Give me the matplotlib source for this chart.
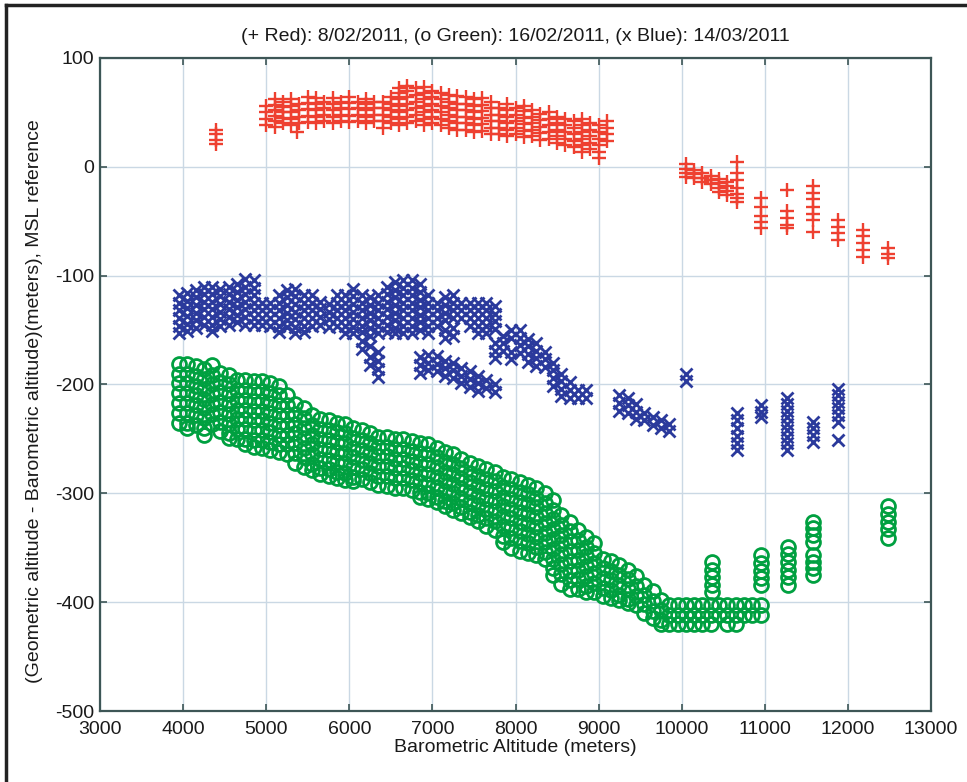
import matplotlib
matplotlib.use('Agg')
import matplotlib.pyplot as plt
from matplotlib.lines import Line2D

# altitude difference vs barometric altitude, three flights
# each series stored as columns: x position and the y values stacked at it

# (+ Red) 8/02/2011
red_x = [4400, 5000, 5100, 5200, 5300, 5370, 5400, 5500, 5600, 5700, 5800, 5900,
         6000, 6100, 6200, 6300, 6400, 6500, 6600, 6700, 6800, 6900, 7000, 7100,
         7200, 7300, 7400, 7500, 7600, 7700, 7800, 7900, 8000, 8100, 8200, 8300,
         8400, 8500, 8600, 8700, 8800, 8900, 9000, 9100,
         10050, 10150, 10250, 10350, 10450, 10550, 10660, 10960, 11270, 11580,
         11880, 12180, 12480]
red_y = [[21, 25, 30, 34],
         [38, 44, 50, 56],
         [37, 42, 47, 52, 57, 62],
         [40, 45, 50, 55, 60],
         [38, 44, 50, 56, 62],
         [32],
         [40, 46, 52, 58],
         [41, 47, 53, 59, 64],
         [40, 46, 52, 58, 63],
         [42, 48, 54, 60],
         [40, 46, 52, 58, 63],
         [42, 48, 54, 60],
         [41, 47, 53, 59, 64],
         [42, 48, 54, 60],
         [40, 46, 52, 58, 62],
         [42, 48, 54, 60],
         [36, 42, 48, 54, 60],
         [40, 46, 52, 58, 64],
         [38, 44, 50, 56, 62, 68, 72],
         [40, 46, 52, 58, 64, 70, 74],
         [42, 48, 54, 60, 66, 72],
         [38, 44, 50, 56, 62, 68, 73],
         [40, 46, 52, 58, 64, 70],
         [38, 44, 50, 56, 62, 68],
         [36, 42, 48, 54, 60, 66],
         [34, 40, 46, 52, 58, 65],
         [34, 40, 46, 52, 58, 64],
         [32, 38, 44, 50, 56, 62],
         [33, 39, 45, 51, 57, 63],
         [30, 36, 42, 48, 54, 60],
         [30, 36, 42, 48, 54],
         [28, 34, 40, 46, 52, 58],
         [30, 36, 42, 48, 54],
         [27, 33, 39, 45, 51, 56],
         [28, 34, 40, 46, 52],
         [25, 31, 37, 43, 49],
         [26, 32, 38, 44, 50],
         [22, 28, 34, 40, 46],
         [20, 26, 32, 38, 44],
         [18, 24, 30, 36, 42],
         [14, 20, 26, 32, 38, 44],
         [16, 22, 28, 34, 40],
         [8, 14, 20, 26, 32, 38],
         [24, 30, 36, 42],
         [3, -2, -6, -9],
         [-3, -7, -10],
         [-6, -10, -14],
         [-8, -12, -16],
         [-11, -15, -19, -23],
         [-14, -18, -22, -26],
         [4, -6, -12, -19, -25, -29, -32],
         [-29, -37, -45, -51, -56],
         [-21, -41, -47, -53, -56],
         [-18, -24, -30, -37, -43, -49, -60],
         [-49, -55, -61, -67],
         [-58, -64, -70, -76, -83],
         [-75, -80, -84]]

# (o Green) 16/02/2011
green_x = [3950, 4050, 4150, 4250, 4350, 4450, 4550, 4650, 4750, 4850, 4950,
           5050, 5150, 5250, 5350, 5450, 5550, 5650, 5750, 5850, 5950, 6050,
           6150, 6250, 6350, 6450, 6550, 6650, 6750, 6850, 6950, 7050, 7150,
           7250, 7350, 7450, 7550, 7650, 7750, 7850, 7950, 8050, 8150, 8250,
           8350, 8450, 8550, 8650, 8750, 8850, 8950, 9050, 9150, 9250, 9350,
           9450, 9550, 9650, 9750, 9850, 9950, 10050, 10150, 10250, 10350,
           10450, 10550, 10650, 10750, 10850, 10950,
           10360, 10960, 11280, 11580, 12480]
green_y = [[-181, -190, -199, -208, -217, -226, -235],
           [-181, -190, -199, -208, -217, -226, -235, -240],
           [-183, -192, -201, -210, -219, -228, -237],
           [-186, -195, -204, -213, -222, -231, -240, -246],
           [-182, -191, -200, -209, -218, -227, -236],
           [-189, -198, -207, -216, -225, -234, -243],
           [-191, -200, -209, -218, -227, -236, -245, -249],
           [-196, -205, -214, -223, -232, -241, -250],
           [-196, -205, -214, -223, -232, -241, -250, -255],
           [-197, -206, -215, -224, -233, -242, -251, -257],
           [-197, -206, -215, -224, -233, -242, -251, -258],
           [-199, -208, -217, -226, -235, -244, -253, -260],
           [-201, -210, -219, -228, -237, -246, -255, -262],
           [-210, -219, -228, -237, -246, -255, -264],
           [-218, -227, -236, -245, -254, -263, -272],
           [-222, -231, -240, -249, -258, -267, -276],
           [-228, -237, -246, -255, -264, -273, -279],
           [-232, -241, -250, -259, -268, -277, -282],
           [-233, -242, -251, -260, -269, -278, -284],
           [-235, -244, -253, -262, -271, -280, -286],
           [-236, -245, -254, -263, -272, -281, -288],
           [-240, -249, -258, -267, -276, -285, -289],
           [-242, -251, -260, -269, -278, -287],
           [-245, -254, -263, -272, -281, -290],
           [-248, -257, -266, -275, -284, -292],
           [-248, -257, -266, -275, -284, -293],
           [-250, -259, -268, -277, -286, -295],
           [-250, -259, -268, -277, -286, -295],
           [-252, -261, -270, -279, -288, -297],
           [-254, -263, -272, -281, -290, -299, -303],
           [-255, -264, -273, -282, -291, -300, -305],
           [-258, -267, -276, -285, -294, -303, -308],
           [-262, -271, -280, -289, -298, -307, -312],
           [-264, -273, -282, -291, -300, -309, -315],
           [-268, -277, -286, -295, -304, -313, -318],
           [-272, -281, -290, -299, -308, -317, -322],
           [-275, -284, -293, -302, -311, -320, -325],
           [-278, -287, -296, -305, -314, -323, -330],
           [-280, -289, -298, -307, -316, -325, -334],
           [-285, -294, -303, -312, -321, -330, -339, -345],
           [-287, -296, -305, -314, -323, -332, -341, -350],
           [-290, -299, -308, -317, -326, -335, -344, -353],
           [-292, -301, -310, -319, -328, -337, -346, -355],
           [-295, -304, -313, -322, -331, -340, -349, -357],
           [-300, -309, -318, -327, -336, -345, -354, -360],
           [-306, -315, -324, -333, -342, -351, -360, -369, -375],
           [-320, -329, -338, -347, -356, -365, -374, -383],
           [-326, -335, -344, -353, -362, -371, -380, -388],
           [-334, -343, -352, -361, -370, -379, -388],
           [-340, -349, -358, -367, -376, -385, -391],
           [-346, -355, -364, -373, -382, -391],
           [-360, -369, -378, -387, -394],
           [-362, -371, -380, -389, -396],
           [-366, -375, -384, -393, -398],
           [-370, -379, -388, -397, -401],
           [-376, -385, -394, -403],
           [-384, -393, -402, -410],
           [-390, -399, -408, -415],
           [-398, -407, -416, -420],
           [-403, -412, -420],
           [-403, -412, -420],
           [-403, -412, -420],
           [-403, -412, -420],
           [-403, -412, -420],
           [-403, -412, -420],
           [-403, -412],
           [-403, -412, -420],
           [-403, -412, -420],
           [-403, -412],
           [-403, -412],
           [-403, -412],
           [-363, -370, -377, -384, -391],
           [-357, -364, -371, -378, -384],
           [-349, -356, -363, -370, -377, -384],
           [-326, -332, -338, -345, -357, -363, -369, -375],
           [-312, -319, -326, -333, -341]]

# (x Blue) 14/03/2011
blue_x = [3950, 4050, 4150, 4250, 4350, 4450, 4550, 4650, 4750, 4850, 4950,
          5050, 5150, 5250, 5350, 5450, 5550, 5650, 5750, 5850, 5950, 6050,
          6150, 6250, 6350, 6450, 6550, 6650, 6750, 6850, 6950, 7050, 7150,
          7250, 7350, 7450, 7550, 7650, 7750, 7850, 7950, 8050, 8150, 8250,
          8350, 8450, 8550, 8650, 8750, 8850, 9250, 9350, 9450, 9550, 9650,
          9750, 9850, 10050, 10660, 10960, 11270, 11580, 11880]
blue_y = [[-118, -125, -132, -139, -146, -153],
          [-116, -123, -130, -137, -144, -151],
          [-113, -120, -127, -134, -141, -148],
          [-110, -117, -124, -131, -138, -145],
          [-110, -117, -124, -131, -138, -145, -151],
          [-112, -119, -126, -133, -140, -146],
          [-110, -117, -124, -131, -138, -145],
          [-108, -115, -122, -129, -136, -143],
          [-103, -110, -117, -124, -131, -138, -145],
          [-104, -111, -118, -125, -132, -139, -145],
          [-125, -132, -139, -145],
          [-125, -132, -139, -146],
          [-118, -125, -132, -139, -146, -152],
          [-113, -120, -127, -134, -141, -147],
          [-112, -119, -126, -133, -140, -147, -153],
          [-118, -125, -132, -139, -146, -152],
          [-118, -125, -132, -139, -146],
          [-124, -131, -138, -145],
          [-126, -133, -140, -147],
          [-118, -125, -132, -139, -146],
          [-118, -125, -132, -139, -146, -153],
          [-112, -119, -126, -133, -140, -147, -153],
          [-118, -125, -132, -139, -146, -152, -160, -167],
          [-120, -127, -134, -141, -148, -155, -165, -175, -182],
          [-118, -125, -132, -139, -146, -153, -170, -178, -186, -193],
          [-110, -117, -124, -131, -138, -145, -152],
          [-106, -113, -120, -127, -134, -141, -148, -153],
          [-104, -111, -118, -125, -132, -139, -146, -153],
          [-104, -111, -118, -125, -132, -139, -146, -153],
          [-108, -115, -122, -129, -136, -143, -150, -175, -182, -189],
          [-118, -125, -132, -139, -146, -153, -173, -180, -187],
          [-125, -132, -139, -146, -174, -181, -188],
          [-120, -127, -134, -141, -150, -157, -178, -185, -192],
          [-118, -125, -132, -139, -148, -155, -180, -187, -194],
          [-125, -132, -139, -185, -192, -199],
          [-125, -132, -139, -146, -188, -195, -202],
          [-125, -132, -139, -146, -153, -192, -199, -206],
          [-125, -132, -139, -146, -153, -196, -203],
          [-128, -135, -142, -149, -162, -169, -176, -200, -207],
          [-155, -162, -169],
          [-150, -157, -170, -177],
          [-150, -157, -164, -171],
          [-158, -165, -172, -179],
          [-162, -169, -176, -183],
          [-170, -177, -184],
          [-180, -187, -194, -201],
          [-190, -197, -204, -211],
          [-198, -205, -212],
          [-205, -212],
          [-205, -212],
          [-210, -217, -224],
          [-212, -219, -226],
          [-218, -225, -232],
          [-226, -233],
          [-230, -237],
          [-233, -240],
          [-236, -243],
          [-190, -197],
          [-226, -233, -240, -247, -254, -260],
          [-219, -225, -230],
          [-212, -218, -224, -230, -236, -242, -248, -254, -260],
          [-234, -240, -246, -253],
          [-204, -210, -216, -222, -228, -234, -251]]


def flatten(cols_x, cols_y):
    xs, ys = [], []
    for x, col in zip(cols_x, cols_y):
        for y in col:
            xs.append(x)
            ys.append(y)
    return xs, ys


plt.rcParams['font.family'] = ['Liberation Sans', 'DejaVu Sans']
plt.rcParams['axes.unicode_minus'] = False
edge = '#3d5656'
txt = '#1a1a1a'

fig = plt.figure(figsize=(9.67, 7.82), dpi=100)
ax = fig.add_axes([100 / 967, 1 - 711 / 782, 831 / 967, 653 / 782])

rx, ry = flatten(red_x, red_y)
gx, gy = flatten(green_x, green_y)
bx, by = flatten(blue_x, blue_y)
ax.plot(rx, ry, '+', color='#ee4030', ms=10, mew=1.7, ls='none')
ax.plot(gx, gy, 'o', color='#00a040', mfc='none', ms=10, mew=2.0, ls='none')
ax.plot(bx, by, 'x', color='#2b3a9c', ms=8, mew=2.0, ls='none')

ax.set_xlim(3000, 13000)
ax.set_ylim(-500, 100)
ax.set_xticks(range(3000, 13001, 1000))
ax.set_yticks(range(-500, 101, 100))
ax.grid(True, color='#cad8e4', lw=1)
ax.set_axisbelow(True)
for s in ax.spines.values():
    s.set_color(edge)
    s.set_linewidth(1.6)
ax.tick_params(direction='in', top=True, right=True, length=5, width=1.2,
               color=edge, labelsize=14, labelcolor=txt)
ax.tick_params(axis='x', pad=7)
ax.tick_params(axis='y', pad=4)

ax.set_title('(+ Red): 8/02/2011, (o Green): 16/02/2011, (x Blue): 14/03/2011',
             fontsize=14, color=txt, pad=12)
ax.set_xlabel('Barometric Altitude (meters)', fontsize=14, color=txt, labelpad=1)
ax.set_ylabel('(Geometric altitude - Barometric altitude)(meters), MSL reference',
              fontsize=14, color=txt)
ax.yaxis.set_label_coords(-0.069, 0.475)

# page frame on top and left
fig.add_artist(Line2D([0.006, 1.0], [0.994, 0.994], color='#222222', lw=2.5))
fig.add_artist(Line2D([0.006, 0.006], [0.0, 0.994], color='#222222', lw=2.5))

fig.savefig('out.png', dpi=100)
